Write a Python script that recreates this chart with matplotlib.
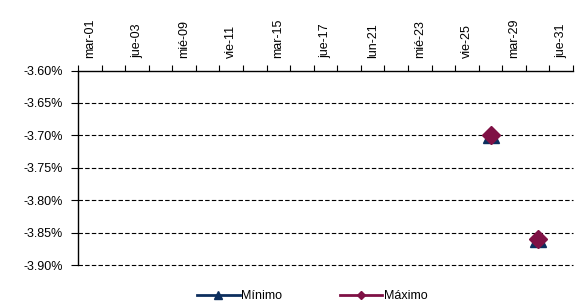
import numpy as np
import matplotlib
matplotlib.use("Agg")
import matplotlib.pyplot as plt
from matplotlib.ticker import FixedLocator, FuncFormatter

plt.rcParams['font.family'] = ['Liberation Sans', 'DejaVu Sans']

categories = ["mar-01", "mié-02", "jue-03", "lun-07", "mié-09", "jue-10", "vie-11",
              "lun-14", "mar-15", "mié-16", "jue-17", "vie-18", "lun-21", "mar-22",
              "mié-23", "jue-24", "vie-25", "lun-28", "mar-29", "mié-30", "jue-31"]
minimo = [np.nan] * 17 + [-3.70, np.nan, -3.86, np.nan]
maximo = [np.nan] * 17 + [-3.70, np.nan, -3.86, np.nan]
yticks = [-3.60, -3.65, -3.70, -3.75, -3.80, -3.85, -3.90]

c_min = "#0D2F5E"
c_max = "#7F1145"

fig = plt.figure(figsize=(5.84, 3.03), dpi=100)
ax = fig.add_axes([0.1336, 0.1254, 0.8476, 0.6416])

x = np.arange(len(categories))
ax.plot(x, minimo, color=c_min, lw=2, marker='^', ms=11.5, label="Mínimo", zorder=3)
ax.plot(x, maximo, color=c_max, lw=2, marker='D', ms=9, label="Máximo", zorder=4)

ax.set_xlim(-0.5, len(categories) - 0.5)
ax.set_ylim(-3.90, -3.60)

ax.xaxis.tick_top()
ax.set_xticks(np.arange(-0.5, len(categories), 1.0))
ax.set_xticklabels([])
ax.xaxis.set_minor_locator(FixedLocator(x[::2]))
ax.xaxis.set_minor_formatter(FuncFormatter(lambda v, p: categories[int(round(v))]))
ax.tick_params(axis='x', which='major', direction='out', length=4, width=0.8, color='black', top=True, bottom=False)
ax.tick_params(axis='x', which='minor', length=0, top=True, bottom=False, labeltop=True, labelbottom=False,
               labelsize=9, labelrotation=90, pad=9)

ax.set_yticks(yticks)
ax.yaxis.set_major_formatter(FuncFormatter(lambda v, p: f"{v:.2f}%"))
ax.tick_params(axis='y', direction='out', length=5, width=0.8, labelsize=9, pad=6)

for y in yticks[1:]:
    ax.axhline(y, color='black', lw=0.8, ls=(0, (4, 2)), zorder=1, clip_on=False)

for s in ['right', 'bottom']:
    ax.spines[s].set_visible(False)
ax.spines['top'].set_linewidth(1.0)
ax.spines['left'].set_linewidth(1.0)

leg = fig.legend(loc='lower center', bbox_to_anchor=(0.535, -0.035), ncol=2, frameon=False,
                 fontsize=9, markerscale=0.45, handlelength=3.4, handletextpad=0.15,
                 columnspacing=4.6)

fig.savefig("out.png", dpi=100)
